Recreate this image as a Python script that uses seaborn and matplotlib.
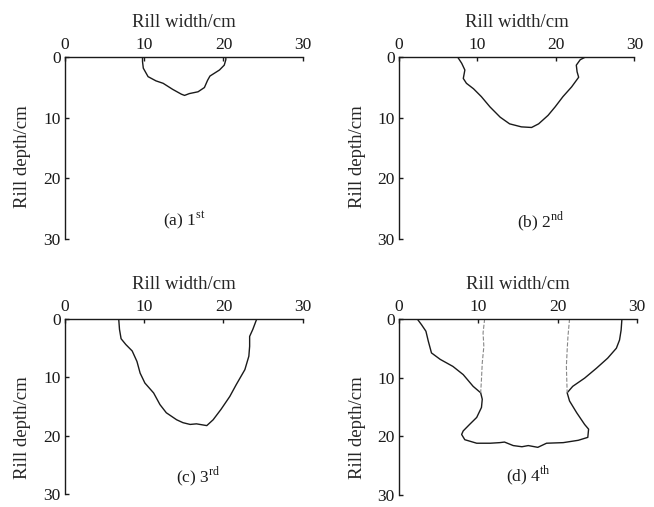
import matplotlib
matplotlib.use("Agg")
import matplotlib.pyplot as plt
import seaborn as sns

# rill cross-section profiles, (width cm, depth cm)
w1 = [9.8, 9.8, 9.9, 10.5, 11.5, 12.4, 13.6, 14.7, 15.1, 15.7, 16.8, 17.6, 18.0, 18.3, 19.5, 20.1, 20.3, 20.3]
d1 = [0, 0.7, 1.8, 3.2, 3.9, 4.3, 5.3, 6.1, 6.3, 6.0, 5.7, 5.0, 3.8, 3.1, 2.1, 1.3, 0.4, 0]

w2 = [7.5, 8.0, 8.4, 8.2, 8.6, 9.5, 10.5, 11.6, 12.9, 14.1, 15.6, 16.9, 17.8, 19.0, 19.9, 20.9, 22.0, 22.9, 22.7, 22.6, 23.1, 23.7]
d2 = [0, 1.0, 2.1, 3.5, 4.3, 5.2, 6.5, 8.2, 9.9, 11.0, 11.5, 11.6, 11.0, 9.6, 8.2, 6.5, 4.9, 3.3, 2.4, 1.3, 0.4, 0]

w3 = [6.8, 6.9, 7.1, 7.7, 8.5, 9.1, 9.5, 10.1, 11.2, 12.0, 12.8, 14.1, 14.9, 15.8, 16.6, 17.9, 18.7, 19.7, 20.8, 21.6, 22.7, 23.2, 23.3, 23.3, 23.7, 24.2]
d3 = [0, 1.8, 3.4, 4.4, 5.5, 7.3, 9.3, 11.0, 12.7, 14.7, 16.1, 17.3, 17.8, 18.1, 18.0, 18.3, 17.3, 15.5, 13.3, 11.3, 8.7, 6.4, 4.7, 3.0, 1.8, 0]

w4 = [2.3, 2.85, 3.4, 3.7, 4.1, 5.2, 6.8, 8.1, 9.35, 10.3, 10.5, 10.4, 9.8, 8.9, 8.1, 7.9, 8.3, 9.8, 11.5, 12.7, 13.3, 14.4,
      15.5, 16.3, 17.5, 18.6, 20.7, 22.6, 23.8, 23.9, 23.4, 22.4, 21.5, 21.2, 21.9, 23.4, 24.9, 26.3, 27.4, 27.8, 28.0, 28.1]
d4 = [0, 1.0, 2.1, 3.8, 5.8, 6.9, 8.1, 9.5, 11.5, 12.6, 13.7, 15.1, 16.8, 18.0, 19.1, 19.7, 20.6, 21.2, 21.2, 21.1, 21.0, 21.6,
      21.8, 21.6, 21.9, 21.2, 21.1, 20.7, 20.2, 18.8, 18.0, 16.0, 14.0, 12.6, 11.5, 10.1, 8.4, 6.7, 5.0, 3.6, 1.9, 0]

# original rill walls (dashed) in the 4th event
w4_left = [10.8, 10.6, 10.7, 10.5, 10.4, 10.3]
d4_left = [0, 2.4, 4.7, 7.5, 10.3, 12.6]
w4_right = [21.5, 21.3, 21.2, 21.1, 21.2]
d4_right = [0, 3.0, 5.3, 8.1, 12.6]

labels = ["(a) 1$^{\\mathrm{st}}$", "(b) 2$^{\\mathrm{nd}}$", "(c) 3$^{\\mathrm{rd}}$", "(d) 4$^{\\mathrm{th}}$"]
label_x = [15.1, 18.1, 16.8, 16.3]
label_y = [27.0, 27.0, 27.0, 26.7]

sns.set_theme(style="ticks")
plt.rcParams["font.family"] = ["Liberation Serif"]
plt.rcParams["mathtext.fontset"] = "custom"
plt.rcParams["mathtext.rm"] = "Liberation Serif"

fig = plt.figure(figsize=(6.54, 5.07), dpi=100)
boxes = [[0.099, 0.529, 0.364, 0.358], [0.610, 0.529, 0.360, 0.358],
         [0.099, 0.026, 0.364, 0.345], [0.610, 0.024, 0.364, 0.347]]
ylab_y = [0.45, 0.45, 0.38, 0.38]
profiles = [(w1, d1), (w2, d2), (w3, d3), (w4, d4)]

for box, (w, d), lab, lx, ly, yy in zip(boxes, profiles, labels, label_x, label_y, ylab_y):
    ax = fig.add_axes(box)
    sns.lineplot(x=w, y=d, sort=False, estimator=None, color="#1a1a1a", lw=1.0, ax=ax)
    ax.set_xlim(0, 30); ax.set_ylim(30, 0)
    ax.set_xticks([0, 10, 20, 30]); ax.set_yticks([0, 10, 20, 30])
    ax.xaxis.tick_top(); ax.xaxis.set_label_position("top")
    for s in ["right", "bottom"]:
        ax.spines[s].set_visible(False)
    for s in ["top", "left"]:
        ax.spines[s].set_linewidth(1.0); ax.spines[s].set_color("#1a1a1a")
    ax.tick_params(direction="in", length=3, width=1, labelsize=12.5, pad=3, colors="#1a1a1a")
    ax.set_xlabel("Rill width/cm", fontsize=13.5, labelpad=7)
    ax.set_ylabel("Rill depth/cm", fontsize=13.5)
    ax.yaxis.set_label_coords(-0.14, yy)
    ax.text(lx, ly, lab, fontsize=12.5, ha="center", va="center", color="#1a1a1a")
    if lab.startswith("(d)"):
        sns.lineplot(x=w4_left, y=d4_left, sort=False, estimator=None, color="#888888", lw=0.8, linestyle="--", ax=ax)
        sns.lineplot(x=w4_right, y=d4_right, sort=False, estimator=None, color="#888888", lw=0.8, linestyle="--", ax=ax)

fig.savefig("out.png", dpi=100)
